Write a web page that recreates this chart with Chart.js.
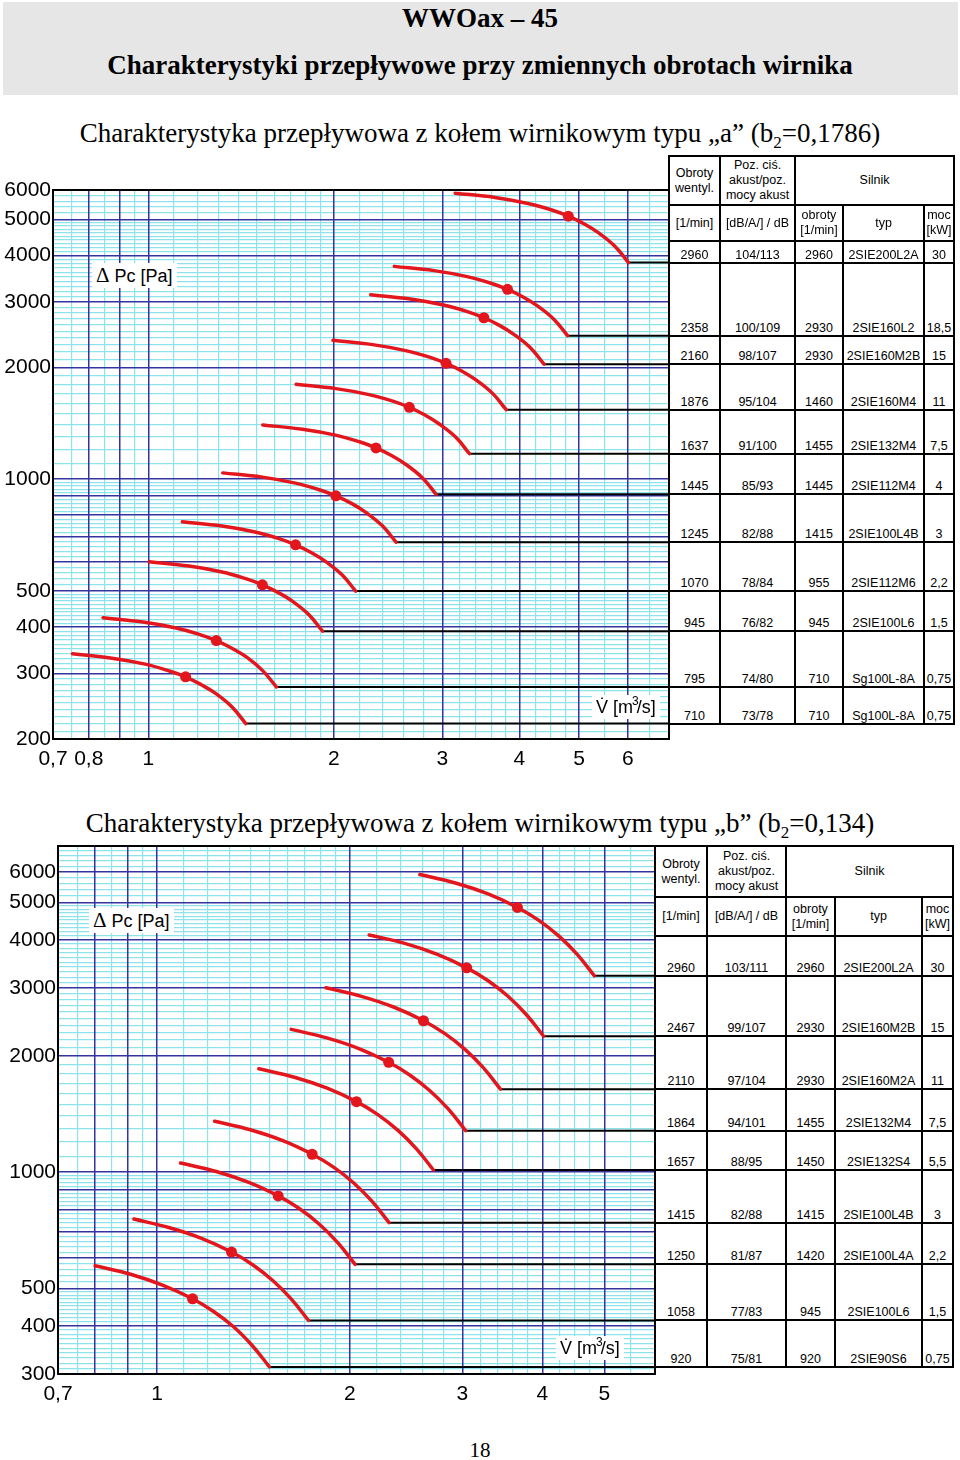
<!DOCTYPE html>
<html lang="pl">
<head>
<meta charset="utf-8">
<title>WWOax – 45</title>
<script src="https://cdn.jsdelivr.net/npm/chart.js@4.4.1/dist/chart.umd.min.js"></script>
<style>
html, body { margin: 0; padding: 0; background: #fff; }
body { position: relative; width: 960px; height: 1460px; overflow: hidden; font-family: "Liberation Sans", Arial, sans-serif; color: #000; }
.band { position: absolute; left: 3px; top: 2px; width: 955px; height: 93px; background: #e6e6e6; }
.serif { position: absolute; left: 0; width: 960px; text-align: center; white-space: nowrap; font-family: "Liberation Serif", "Times New Roman", serif; }
.wrap { position: absolute; left: 0; }
.tag { position: absolute; background: #fff; white-space: nowrap; font-size: 18px; line-height: 22px; padding: 1px 4px; z-index: 2; }
.tag .d { font-family: "Liberation Serif", serif; font-size: 21px; margin-right: 5px; }
.tag sup { font-size: 12px; vertical-align: 8px; line-height: 0; margin: 0 -2px 0 -1px; }
.c { position: absolute; box-sizing: border-box; border-right: 2px solid #000; border-bottom: 2px solid #000; display: flex; justify-content: center; align-items: flex-end; text-align: center; font-size: 12.5px; line-height: 13px; padding-bottom: 0; white-space: nowrap; background: #fff; z-index: 1; }
.c.h { align-items: center; line-height: 15px; }
.c.l { border-left: 2px solid #000; }
.c.t { border-top: 2px solid #000; }
</style>
</head>
<body>
<div class="band"></div>
<div class="serif" style="top:3px;font-size:27px;line-height:30px;font-weight:bold">WWOax – 45</div>
<div class="serif" style="top:50px;font-size:27px;line-height:30px;font-weight:bold">Charakterystyki przepływowe przy zmiennych obrotach wirnika</div>
<div class="serif" style="top:118px;font-size:27px;line-height:30px">Charakterystyka przepływowa z kołem wirnikowym typu „a” (b<sub style="font-size:17px;line-height:0">2</sub>=0,1786)</div>
<div class="serif" style="top:808px;font-size:27px;line-height:30px">Charakterystyka przepływowa z kołem wirnikowym typu „b” (b<sub style="font-size:17px;line-height:0">2</sub>=0,134)</div>
<div class="serif" style="top:1437px;font-size:21px;line-height:26px">18</div>

<div class="wrap" style="top:170px"><canvas id="chartA" width="681" height="605" style="width:681px;height:605px"></canvas></div>
<div class="wrap" style="top:830px"><canvas id="chartB" width="667" height="580" style="width:667px;height:580px"></canvas></div>

<div class="tag" style="left:92px;top:263px"><span class="d">Δ</span>Pc [Pa]</div>
<div class="tag" style="left:592px;top:695px">V̇ [m<sup>3</sup>/s]</div>
<div class="tag" style="left:89px;top:908px"><span class="d">Δ</span>Pc [Pa]</div>
<div class="tag" style="left:556px;top:1336px">V̇ [m<sup>3</sup>/s]</div>

<script>
// ── osie: wykres „a”
const xMajorA = [0.7, 0.8, 0.9, 1, 2, 3, 4, 5, 6];
const xLabelsA = ["0,7", "0,8", "", "1", "2", "3", "4", "5", "6"];
const xMinorA = [0.75, 0.85, 0.95, 1.1, 1.2, 1.3, 1.4, 1.5, 1.6, 1.7, 1.8, 1.9, 2.2, 2.4, 2.6, 2.8, 3.2, 3.4, 3.6, 3.8, 4.25, 4.5, 4.75, 5.5, 6.5];
const yMajorA = [200, 300, 400, 500, 600, 700, 800, 900, 1000, 2000, 3000, 4000, 5000, 6000];
const yLabelsA = ["200", "300", "400", "500", "", "", "", "", "1000", "2000", "3000", "4000", "5000", "6000"];
const yMinorA = [210, 220, 230, 240, 250, 260, 270, 280, 290, 310, 320, 330, 340, 350, 360, 370, 380, 390,
  410, 420, 430, 440, 450, 460, 470, 480, 490, 520, 540, 560, 580, 620, 640, 660, 680, 720, 740, 760, 780,
  820, 840, 860, 880, 920, 940, 960, 980, 1100, 1200, 1300, 1400, 1500, 1600, 1700, 1800, 1900,
  2100, 2200, 2300, 2400, 2500, 2600, 2700, 2800, 2900, 3100, 3200, 3300, 3400, 3500, 3600, 3700, 3800, 3900,
  4100, 4200, 4300, 4400, 4500, 4600, 4700, 4800, 4900, 5200, 5400, 5600, 5800];

// ── osie: wykres „b”
const xMajorB = [0.7, 0.8, 0.9, 1, 2, 3, 4, 5];
const xLabelsB = ["0,7", "", "", "1", "2", "3", "4", "5"];
const xMinorB = [0.75, 0.85, 0.95, 1.1, 1.2, 1.3, 1.4, 1.5, 1.6, 1.7, 1.8, 1.9, 2.2, 2.4, 2.6, 2.8, 3.2, 3.4, 3.6, 3.8, 4.25, 4.5, 4.75, 5.5];
const yMajorB = [300, 400, 500, 600, 700, 800, 900, 1000, 2000, 3000, 4000, 5000, 6000];
const yLabelsB = ["300", "400", "500", "", "", "", "", "1000", "2000", "3000", "4000", "5000", "6000"];
const yMinorB = [310, 320, 330, 340, 350, 360, 370, 380, 390,
  410, 420, 430, 440, 450, 460, 470, 480, 490, 520, 540, 560, 580, 620, 640, 660, 680, 720, 740, 760, 780,
  820, 840, 860, 880, 920, 940, 960, 980, 1100, 1200, 1300, 1400, 1500, 1600, 1700, 1800, 1900,
  2100, 2200, 2300, 2400, 2500, 2600, 2700, 2800, 2900, 3100, 3200, 3300, 3400, 3500, 3600, 3700, 3800, 3900,
  4100, 4200, 4300, 4400, 4500, 4600, 4700, 4800, 4900, 5200, 5400, 5600, 5800, 6200, 6400, 6600, 6800];

// ── krzywe „a”: V [m3/s], ΔPc [Pa]
const rpmA = [2960, 2358, 2160, 1876, 1637, 1445, 1245, 1070, 945, 795, 710];
const flowA = [
  [3.147, 3.652, 4.132, 4.517, 4.805, 5.093, 5.382, 5.718, 6.016],
  [2.507, 2.909, 3.292, 3.598, 3.828, 4.058, 4.287, 4.555, 4.793],
  [2.295, 2.663, 3.013, 3.294, 3.504, 3.714, 3.924, 4.170, 4.387],
  [1.993, 2.312, 2.616, 2.859, 3.042, 3.225, 3.407, 3.620, 3.809],
  [1.737, 2.016, 2.281, 2.493, 2.652, 2.811, 2.970, 3.156, 3.320],
  [1.533, 1.779, 2.013, 2.201, 2.341, 2.481, 2.622, 2.786, 2.931],
  [1.320, 1.531, 1.733, 1.894, 2.015, 2.136, 2.257, 2.398, 2.523],
  [1.135, 1.317, 1.490, 1.629, 1.733, 1.837, 1.941, 2.062, 2.170],
  [1.003, 1.164, 1.317, 1.439, 1.531, 1.623, 1.715, 1.822, 1.917],
  [0.844, 0.980, 1.109, 1.212, 1.289, 1.366, 1.444, 1.534, 1.614],
  [0.753, 0.873, 0.988, 1.080, 1.149, 1.218, 1.287, 1.367, 1.439]
];
const pressA = [
  [5884, 5731, 5521, 5302, 5103, 4868, 4598, 4235, 3827],
  [3738, 3641, 3508, 3368, 3242, 3093, 2921, 2691, 2432],
  [3135, 3053, 2942, 2825, 2719, 2594, 2450, 2257, 2039],
  [2364, 2302, 2218, 2130, 2050, 1956, 1847, 1702, 1538],
  [1800, 1753, 1689, 1622, 1561, 1489, 1406, 1296, 1171],
  [1400, 1363, 1314, 1261, 1214, 1158, 1094, 1008, 911],
  [1040, 1013, 976, 937, 902, 861, 813, 749, 677],
  [768, 748, 721, 692, 666, 635, 600, 553, 500],
  [600, 584, 563, 540, 520, 496, 469, 432, 390],
  [424, 413, 398, 382, 368, 351, 332, 305, 276],
  [339, 330, 318, 305, 294, 280, 265, 244, 220]
];
const noiseA = ["104/113", "100/109", "98/107", "95/104", "91/100", "85/93", "82/88", "78/84", "76/82", "74/80", "73/78"];
const motorRpmA = [2960, 2930, 2930, 1460, 1455, 1445, 1415, 955, 945, 710, 710];
const motorTypeA = ["2SIE200L2A", "2SIE160L2", "2SIE160M2B", "2SIE160M4", "2SIE132M4", "2SIE112M4", "2SIE100L4B", "2SIE112M6", "2SIE100L6", "Sg100L-8A", "Sg100L-8A"];
const powerA = ["30", "18,5", "15", "11", "7,5", "4", "3", "2,2", "1,5", "0,75", "0,75"];

// ── krzywe „b”
const rpmB = [2960, 2467, 2110, 1864, 1657, 1415, 1250, 1058, 920];
const flowB = [
  [2.574, 2.926, 3.291, 3.657, 3.950, 4.242, 4.535, 4.824],
  [2.145, 2.438, 2.742, 3.047, 3.291, 3.535, 3.778, 4.019],
  [1.836, 2.086, 2.347, 2.608, 2.817, 3.025, 3.234, 3.440],
  [1.620, 1.841, 2.071, 2.301, 2.485, 2.669, 2.853, 3.035],
  [1.442, 1.639, 1.844, 2.049, 2.213, 2.377, 2.541, 2.703],
  [1.230, 1.398, 1.572, 1.747, 1.887, 2.027, 2.166, 2.304],
  [1.088, 1.237, 1.391, 1.546, 1.670, 1.793, 1.917, 2.039],
  [0.920, 1.046, 1.176, 1.307, 1.412, 1.516, 1.621, 1.724],
  [0.800, 0.909, 1.022, 1.136, 1.227, 1.318, 1.409, 1.498]
];
const pressB = [
  [5904, 5613, 5258, 4851, 4492, 4094, 3667, 3226],
  [4118, 3915, 3668, 3384, 3134, 2856, 2558, 2250],
  [3004, 2855, 2675, 2468, 2285, 2083, 1866, 1641],
  [2344, 2228, 2088, 1926, 1783, 1626, 1456, 1281],
  [1853, 1762, 1651, 1523, 1410, 1285, 1151, 1013],
  [1355, 1288, 1207, 1113, 1031, 939, 841, 740],
  [1056, 1004, 941, 868, 804, 733, 656, 577],
  [756, 718, 673, 621, 575, 524, 469, 413],
  [572, 544, 509, 470, 435, 397, 355, 313]
];
const noiseB = ["103/111", "99/107", "97/104", "94/101", "88/95", "82/88", "81/87", "77/83", "75/81"];
const motorRpmB = [2960, 2930, 2930, 1455, 1450, 1415, 1420, 945, 920];
const motorTypeB = ["2SIE200L2A", "2SIE160M2B", "2SIE160M2A", "2SIE132M4", "2SIE132S4", "2SIE100L4B", "2SIE100L4A", "2SIE100L6", "2SIE90S6"];
const powerB = ["30", "15", "11", "7,5", "5,5", "3", "2,2", "1,5", "0,75"];

const RED = "#e2161c", NAVY = "#34349f", CYAN = "#8ce4ea";
const FONT = "'Liberation Sans', Arial, sans-serif";

const framePlugin = {
  id: "frame",
  beforeDatasetsDraw(chart) {
    const { ctx, chartArea: a } = chart;
    ctx.save();
    ctx.strokeStyle = "#000";
    ctx.lineWidth = 2;
    ctx.strokeRect(a.left, a.top, a.right - a.left, a.bottom - a.top);
    ctx.restore();
  }
};

function gridOnly(pos, min, max, vals, horiz) {
  return {
    type: "logarithmic", position: pos, min, max, bounds: "data",
    afterBuildTicks: s => { s.ticks = vals.map(v => ({ value: v })); },
    afterFit: s => { if (horiz) s.height = 0; else s.width = 0; },
    ticks: { display: false },
    border: { display: false },
    grid: { color: CYAN, lineWidth: 1.2, drawTicks: false, z: -2 }
  };
}

function makeChart(id, d) {
  const datasets = [];
  d.flow.forEach((fl, i) => {
    const pr = d.press[i];
    const last = fl.length - 1;
    datasets.push({
      label: d.rpm[i] + " 1/min",
      data: fl.map((x, j) => ({ x, y: pr[j] })),
      borderColor: RED, backgroundColor: RED, borderWidth: 3.5,
      tension: 0.4, borderCapStyle: "round",
      pointRadius: c => c.dataIndex === d.dot ? 5.5 : 0,
      pointBorderWidth: 0, pointBackgroundColor: RED
    });
    datasets.push({
      data: [{ x: fl[last], y: pr[last] }, { x: d.xMax, y: pr[last] }],
      borderColor: "#000", borderWidth: 2, pointRadius: 0, tension: 0
    });
  });

  return new Chart(document.getElementById(id), {
    type: "line",
    data: { datasets },
    options: {
      responsive: false, animation: false, devicePixelRatio: 1, events: [],
      layout: { padding: { top: d.padTop, right: 12, left: 0, bottom: 0 } },
      plugins: { legend: { display: false }, tooltip: { enabled: false } },
      scales: {
        xm: gridOnly("bottom", d.xMin, d.xMax, d.xMinor, true),
        ym: gridOnly("left", d.yMin, d.yMax, d.yMinor, false),
        x: {
          type: "logarithmic", position: "bottom", min: d.xMin, max: d.xMax, bounds: "data",
          afterBuildTicks: s => { s.ticks = d.xMajor.map(v => ({ value: v })); },
          afterFit: s => { s.height = 36; },
          ticks: { autoSkip: false, maxRotation: 0, padding: 8, color: "#000", font: { family: FONT, size: 21 }, callback: (v, i) => d.xLabels[i] },
          border: { display: false },
          grid: { color: NAVY, lineWidth: 1.5, drawTicks: false, z: -1 }
        },
        y: {
          type: "logarithmic", position: "left", min: d.yMin, max: d.yMax, bounds: "data",
          afterBuildTicks: s => { s.ticks = d.yMajor.map(v => ({ value: v })); },
          afterFit: s => { s.width = d.yWidth; },
          ticks: { autoSkip: false, padding: 2, color: "#000", font: { family: FONT, size: 21 }, callback: (v, i) => d.yLabels[i] },
          border: { display: false },
          grid: { color: NAVY, lineWidth: 1.5, drawTicks: false, z: -1 }
        }
      }
    },
    plugins: [framePlugin]
  });
}

function cell(x0, x1, y0, y1, html, cls) {
  const el = document.createElement("div");
  el.className = "c " + cls;
  el.style.left = x0 + "px";
  el.style.top = y0 + "px";
  el.style.width = (x1 - x0) + "px";
  el.style.height = (y1 - y0) + "px";
  el.innerHTML = "<div>" + html + "</div>";
  document.body.appendChild(el);
}

// ── tabela: wiersze kończą się na wysokości końca krzywej
function buildTable(chart, canvasTop, cols, ys, press, rows) {
  const yb = ys.concat(press.map(p => canvasTop + chart.scales.y.getPixelForValue(p[p.length - 1])));
  const X0 = c => c === 0 ? cols[0] - 1 : cols[c] + 1;
  const Y0 = r => r === 0 ? yb[0] - 1 : yb[r] + 1;
  const head1 = ["Obroty<br>wentyl.", "Poz. ciś.<br>akust/poz.<br>mocy akust", "Silnik"];
  const span1 = [[0, 1], [1, 2], [2, 5]];
  span1.forEach(([a, b], k) => cell(X0(a), cols[b] + 1, Y0(0), yb[1] + 1, head1[k], "h t" + (a === 0 ? " l" : "")));
  const head2 = ["[1/min]", "[dB/A/] / dB", "obroty<br>[1/min]", "typ", "moc<br>[kW]"];
  head2.forEach((t, c) => cell(X0(c), cols[c + 1] + 1, Y0(1), yb[2] + 1, t, "h" + (c === 0 ? " l" : "")));
  rows.forEach((row, r) => {
    row.forEach((t, c) => cell(X0(c), cols[c + 1] + 1, Y0(r + 2), yb[r + 3] + 1, t, c === 0 ? "l" : ""));
  });
}

const chartA = makeChart("chartA", {
  flow: flowA, press: pressA, rpm: rpmA, dot: 4,
  xMin: 0.7, xMax: 7, yMin: 200, yMax: 6000,
  xMajor: xMajorA, xLabels: xLabelsA, xMinor: xMinorA,
  yMajor: yMajorA, yLabels: yLabelsA, yMinor: yMinorA,
  padTop: 20, yWidth: 53
});
const chartB = makeChart("chartB", {
  flow: flowB, press: pressB, rpm: rpmB, dot: 3,
  xMin: 0.7, xMax: 6, yMin: 300, yMax: 7000,
  xMajor: xMajorB, xLabels: xLabelsB, xMinor: xMinorB,
  yMajor: yMajorB, yLabels: yLabelsB, yMinor: yMinorB,
  padTop: 16, yWidth: 58
});

buildTable(chartA, 170, [669, 720, 795, 843, 924, 954], [156, 205, 241], pressA,
  rpmA.map((n, i) => [n, noiseA[i], motorRpmA[i], motorTypeA[i], powerA[i]]));
buildTable(chartB, 830, [655, 707, 786, 835, 922, 953], [846, 897, 936], pressB,
  rpmB.map((n, i) => [n, noiseB[i], motorRpmB[i], motorTypeB[i], powerB[i]]));
</script>
</body>
</html>
